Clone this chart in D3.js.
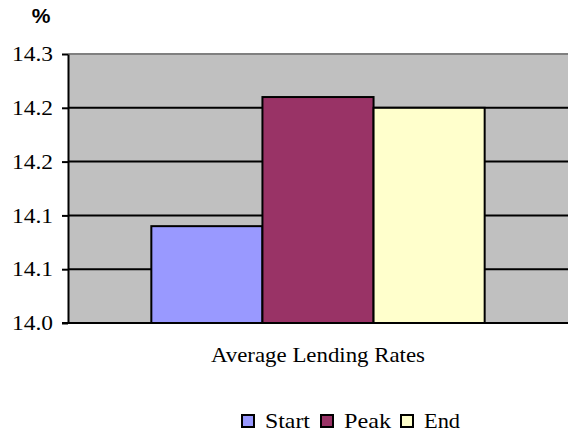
<!DOCTYPE html>
<html>
<head>
<meta charset="utf-8">
<script src="https://cdn.jsdelivr.net/npm/d3@7"></script>
<style>
  html, body { margin: 0; padding: 0; background: #fff; }
  svg { display: block; }
  svg text.sf { font-family: "Liberation Serif", "DejaVu Serif", "Times New Roman", Times, serif !important; }
</style>
</head>
<body>
<svg id="chart" width="568" height="439"></svg>
<script>
// ---- data ----
const categories = ["Average Lending Rates"];
const seriesNames = ["Start", "Peak", "End"];
const seriesValues = [14.09, 14.21, 14.20];
const seriesColors = ["#9999FF", "#993366", "#FFFFCC"];
const tickValues = [14.00, 14.05, 14.10, 14.15, 14.20, 14.25];
const tickLabels = ["14.0", "14.1", "14.1", "14.2", "14.2", "14.3"];
const unitLabel = "%";

(function () {
// ---- layout ----
const svg = d3.select("#chart");
const pL = 68, pR = 568, pT = 54, pB = 323;

const y = d3.scaleLinear().domain([14.00, 14.25]).range([pB, pT]);
const x0 = d3.scaleBand().domain(categories).range([pL, pR]).paddingInner(0).paddingOuter(0.25);
const x1 = d3.scaleBand().domain(seriesNames).range([0, x0.bandwidth()]).padding(0);

// plot background
svg.append("rect")
  .attr("x", pL).attr("y", pT)
  .attr("width", pR - pL).attr("height", pB - pT)
  .attr("fill", "#C0C0C0");

// gridlines
svg.append("g")
  .selectAll("line")
  .data(tickValues.slice(1, -1))
  .join("line")
  .attr("x1", pL).attr("x2", pR)
  .attr("y1", d => y(d)).attr("y2", d => y(d))
  .attr("stroke", "#000").attr("stroke-width", 2);

// top border
svg.append("line")
  .attr("x1", pL).attr("x2", pR)
  .attr("y1", pT).attr("y2", pT)
  .attr("stroke", "#808080").attr("stroke-width", 2);

// bars
const g = svg.append("g").attr("transform", `translate(${x0(categories[0])},0)`);
g.selectAll("rect")
  .data(seriesNames.map((n, i) => ({ name: n, value: seriesValues[i], color: seriesColors[i] })))
  .join("rect")
  .attr("x", d => x1(d.name))
  .attr("y", d => y(d.value))
  .attr("width", x1.bandwidth())
  .attr("height", d => pB - y(d.value))
  .attr("fill", d => d.color)
  .attr("stroke", "#000")
  .attr("stroke-width", 2);

// y axis
const yAxis = d3.axisLeft(y)
  .tickValues(tickValues)
  .tickFormat((d, i) => tickLabels[i])
  .tickSize(6)
  .tickSizeOuter(0)
  .tickPadding(9);
const ya = svg.append("g").attr("transform", `translate(${pL},0)`).call(yAxis)
  .attr("font-family", null).attr("font-size", 22);
ya.select(".domain").attr("stroke", "#000").attr("stroke-width", 2);
ya.selectAll(".tick line").attr("stroke", "#000").attr("stroke-width", 2);
ya.selectAll(".tick text")
  .classed("sf", true)
  .attr("fill", "#000")
  .attr("dy", "0.3em")
  .attr("textLength", 41)
  .attr("lengthAdjust", "spacingAndGlyphs");

// x axis
const xAxis = d3.axisBottom(x0).tickSize(0).tickSizeOuter(0).tickPadding(24);
const xa = svg.append("g").attr("transform", `translate(0,${pB})`).call(xAxis)
  .attr("font-family", null).attr("font-size", 21);
xa.select(".domain").remove();
svg.append("line")
  .attr("x1", pL - 6).attr("x2", pR)
  .attr("y1", pB).attr("y2", pB)
  .attr("stroke", "#000").attr("stroke-width", 2);
xa.selectAll(".tick text")
  .classed("sf", true)
  .attr("fill", "#000")
  .attr("textLength", 214)
  .attr("lengthAdjust", "spacingAndGlyphs");

// unit label
svg.append("text")
  .attr("x", 41).attr("y", 23)
  .attr("text-anchor", "middle")
  .style("font-family", "'Liberation Sans', Arial, sans-serif")
  .attr("font-weight", "bold")
  .attr("font-size", 21)
  .text(unitLabel);

// legend
const legendX = [242, 321, 401];
const legendW = [45, 47, 36];
const lg = svg.append("g");
seriesNames.forEach((n, i) => {
  lg.append("rect")
    .attr("x", legendX[i]).attr("y", 415)
    .attr("width", 12).attr("height", 12)
    .attr("fill", seriesColors[i])
    .attr("stroke", "#000").attr("stroke-width", 2);
  lg.append("text")
    .classed("sf", true)
    .attr("x", legendX[i] + 23).attr("y", 428)
    .attr("font-size", 21)
    .attr("textLength", legendW[i])
    .attr("lengthAdjust", "spacingAndGlyphs")
    .text(n);
});
})();
</script>
</body>
</html>
